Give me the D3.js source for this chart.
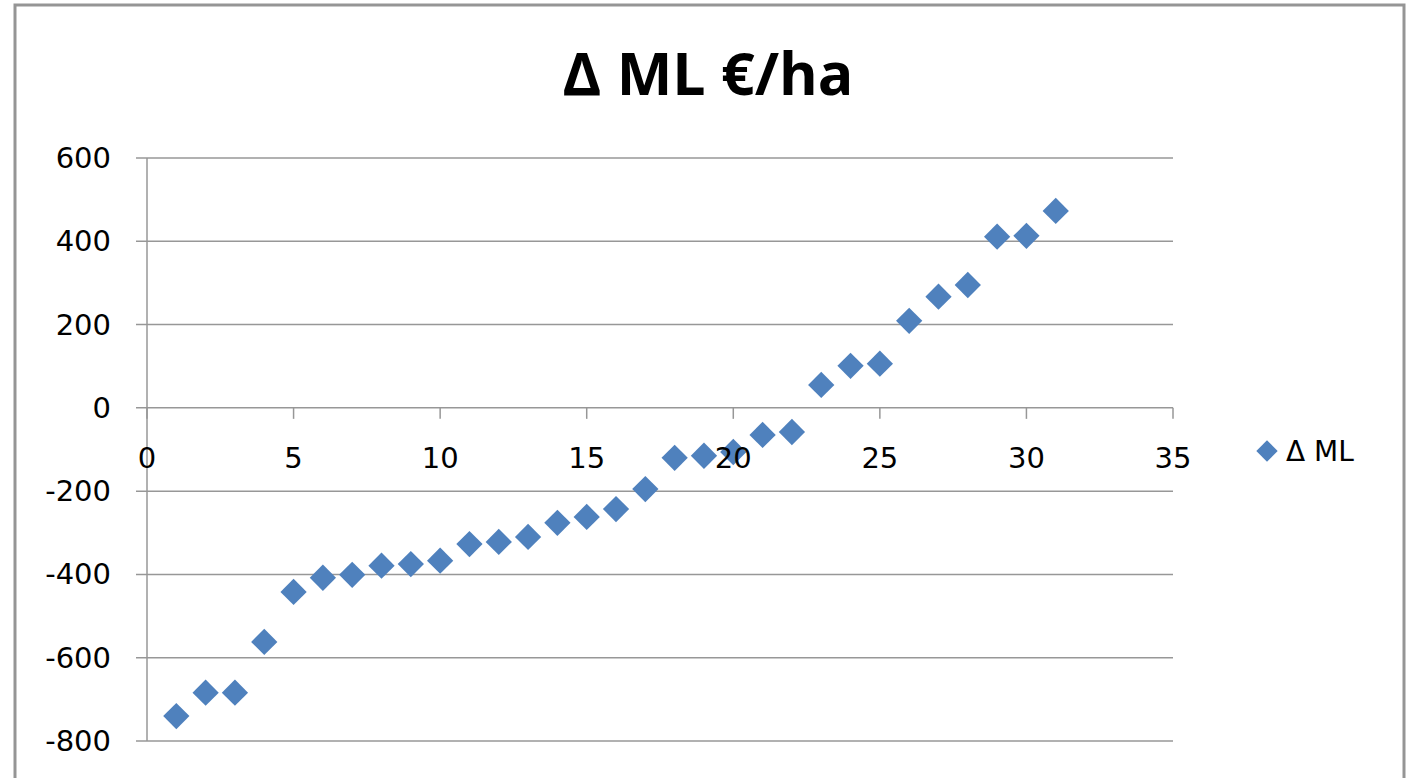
<!DOCTYPE html>
<html>
<head>
<meta charset="utf-8">
<script src="https://cdn.jsdelivr.net/npm/d3@7"></script>
<style>
  body { margin: 0; background: #fff; }
  text { font-family: "DejaVu Sans", "Liberation Sans", sans-serif; fill: #000; }
</style>
</head>
<body>
<script>
// DATA
const xValues = [1, 2, 3, 4, 5, 6, 7, 8, 9, 10, 11, 12, 13, 14, 15, 16,
  17, 18, 19, 20, 21, 22, 23, 24, 25, 26, 27, 28, 29, 30, 31];
const mlValues = [-740, -684, -684, -562, -442, -408, -401, -379, -375, -367,
  -327, -322, -310, -276, -262, -243, -195, -120, -115, -106, -65, -58,
  55, 101, 106, 209, 267, 295, 411, 413, 473];
const xTicks = [0, 5, 10, 15, 20, 25, 30, 35];
const yTicks = [-800, -600, -400, -200, 0, 200, 400, 600];
const seriesName = "Δ ML";
const chartTitle = "Δ ML €/ha";

const W = 1412, H = 778;
const svg = d3.select("body").append("svg")
    .attr("width", W)
    .attr("height", H);

// chart frame
svg.append("rect")
    .attr("x", 15).attr("y", 5)
    .attr("width", 1389).attr("height", 800)
    .attr("fill", "#fff")
    .attr("stroke", "#959595")
    .attr("stroke-width", 3);

const margin = {top: 158, left: 147, right: 1173, bottom: 741};

const xScale = d3.scaleLinear().domain([0, 35]).range([margin.left, margin.right]);
const yScale = d3.scaleLinear().domain([-800, 600]).range([margin.bottom, margin.top]);

const gridColor = "#979797";

// horizontal gridlines (with small left ticks)
svg.append("g").selectAll("line").data(yTicks)
    .enter().append("line")
    .attr("x1", margin.left - 11).attr("x2", margin.right)
    .attr("y1", d => yScale(d)).attr("y2", d => yScale(d))
    .attr("stroke", gridColor).attr("stroke-width", 1.5);

// y axis line
svg.append("line")
    .attr("x1", margin.left).attr("x2", margin.left)
    .attr("y1", margin.top).attr("y2", margin.bottom)
    .attr("stroke", gridColor).attr("stroke-width", 1.5);

// x axis ticks at y=0
svg.append("g").selectAll("line").data(xTicks)
    .enter().append("line")
    .attr("x1", d => xScale(d)).attr("x2", d => xScale(d))
    .attr("y1", yScale(0)).attr("y2", yScale(0) + 11)
    .attr("stroke", gridColor).attr("stroke-width", 1.5);

// points
const diamond = d3.symbol().type(d3.symbolDiamond2);
svg.append("g").selectAll("path").data(xValues)
    .enter().append("path")
    .attr("d", diamond.size(440)())
    .attr("transform", (d, i) => "translate(" + xScale(d) + "," + yScale(mlValues[i]) + ")")
    .attr("fill", "#4F81BD");

// y labels
svg.append("g").selectAll("text").data(yTicks)
    .enter().append("text")
    .attr("x", 111)
    .attr("y", d => yScale(d) + 10)
    .attr("text-anchor", "end")
    .style("font-size", "29px")
    .text(d => d);

// x labels
svg.append("g").selectAll("text").data(xTicks)
    .enter().append("text")
    .attr("x", d => xScale(d))
    .attr("y", yScale(0) + 60)
    .attr("text-anchor", "middle")
    .style("font-size", "29px")
    .text(d => d);

// title
svg.append("text")
    .attr("x", 708).attr("y", 95)
    .attr("text-anchor", "middle")
    .style("font-family", "'Open Sans', sans-serif")
    .style("font-size", "59px")
    .style("font-weight", "bold")
    .text(chartTitle);

// legend
svg.append("path")
    .attr("d", diamond.size(290)())
    .attr("transform", "translate(1267,451)")
    .attr("fill", "#4F81BD");
svg.append("text")
    .attr("x", 1286).attr("y", 461)
    .style("font-size", "28px")
    .text(seriesName);
</script>
</body>
</html>
